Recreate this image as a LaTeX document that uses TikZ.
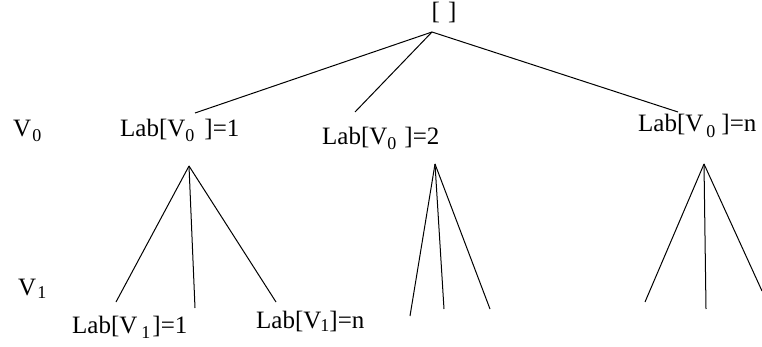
\documentclass[tikz,border=0pt]{standalone}
\usepackage{fontspec}
\setmainfont{Liberation Serif}
\usetikzlibrary{positioning}
\newcommand{\lsub}[2][5pt]{\raisebox{-#1}{\fontsize{18}{18}\selectfont #2}}

\begin{document}
\begin{tikzpicture}[
    x=1pt, y=-1pt,
    lab/.style={anchor=base west, inner sep=0pt, font=\fontsize{25}{28}\selectfont},
    edge/.style={line width=1pt},
    pt/.style={inner sep=0pt, minimum size=0pt}
]
\useasboundingbox (0,0) rectangle (762,347);

% Root
\node[inner sep=0pt, font=\fontsize{25}{28}\selectfont] (root) at (444,13) {[\,\,]};
\coordinate (top) at (432,32);

% Level labels
\node[lab] (v0) at (13,137) {V\hspace{1pt}\lsub{0}};
\node[lab] (v1) at (18,295) {V\hspace{1pt}\lsub[3pt]{1}};

% First level
\node[lab] (lab01) at (120,137) {Lab[V\lsub{0}\hspace{10pt}]=1};
\node[lab] (lab02) at (322,145) {Lab[V\lsub{0}\hspace{8pt}]=2};
\node[lab] (lab0n) at (638,132) {Lab[V\hspace{3pt}\lsub[6pt]{0}\hspace{6pt}]=n};

\coordinate (e1) at (195,113);
\coordinate (e2) at (355,112);
\coordinate (e3) at (678,112);

% Second level
\coordinate (f1) at (189,166);
\coordinate (f2) at (435,164);
\coordinate (f3) at (704,164);

\coordinate (a1) at (116,302);
\coordinate (a2) at (195,308);
\coordinate (a3) at (276,302);
\coordinate (b1) at (410,316);
\coordinate (b2) at (444,309);
\coordinate (b3) at (490,309);
\coordinate (c1) at (645,302);
\coordinate (c2) at (706,309);
\coordinate (c3) at (762,291);

\node[lab] (lab11) at (72,333) {Lab[V\hspace{4pt}\lsub{1}\hspace{2pt}]=1};
\node[lab] (lab1n) at (256,328) {Lab[V\hspace{-1pt}\lsub[3pt]{1}]=n};

% Edges
\draw[edge] (top) -- (e1);
\draw[edge] (top) -- (e2);
\draw[edge] (top) -- (e3);
\foreach \s/\t in {f1/a1, f1/a2, f1/a3, f2/b1, f2/b2, f2/b3, f3/c1, f3/c2, f3/c3}
    \draw[edge] (\s) -- (\t);

\end{tikzpicture}
\end{document}
